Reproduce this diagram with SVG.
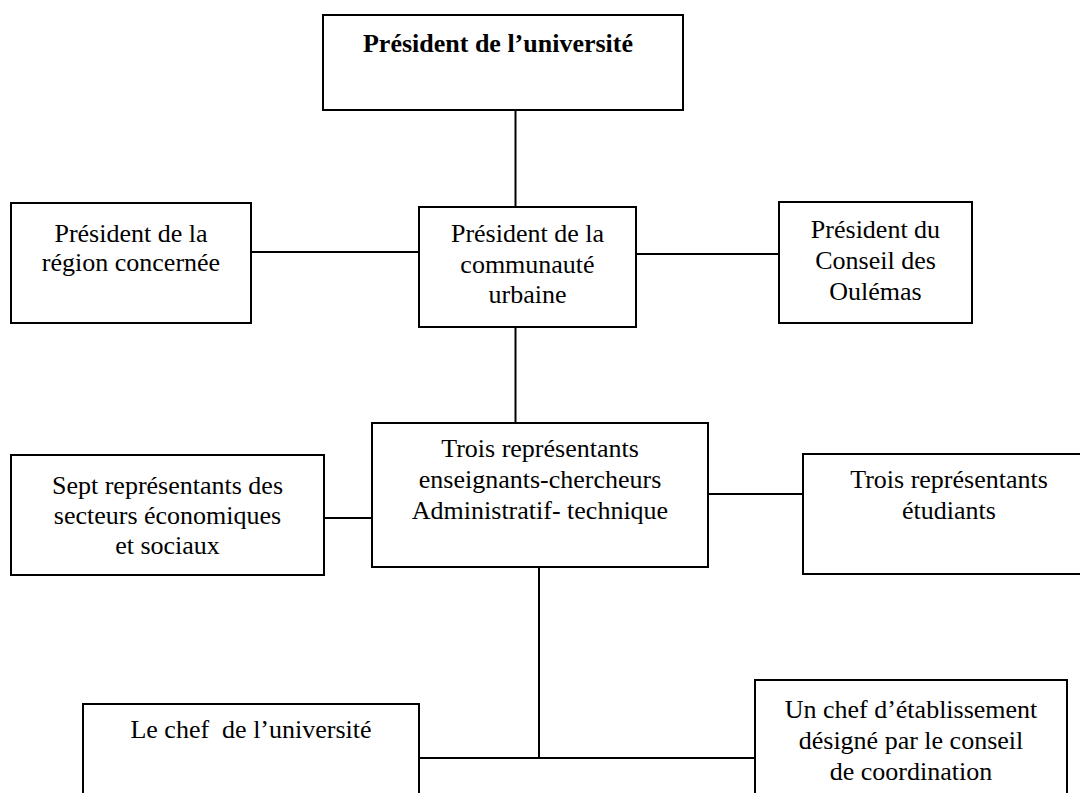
<svg xmlns="http://www.w3.org/2000/svg" width="1080" height="793" viewBox="0 0 1080 793" font-family="Liberation Serif, Times New Roman, DejaVu Serif, serif">
<style>
.box{fill:#fff;stroke:#000;stroke-width:2}
.t{font-family:'Liberation Serif','Times New Roman','DejaVu Serif',serif;font-size:26px;fill:#000;text-anchor:middle}
.b{font-weight:bold}
.c{stroke:#000;stroke-width:2;fill:none}
</style>
<rect width="1080" height="793" fill="#fff"/>
<g id="connectors">
<line class="c" x1="515.5" y1="110" x2="515.5" y2="207"/>
<line class="c" x1="251" y1="252" x2="419" y2="252"/>
<line class="c" x1="636" y1="254" x2="779" y2="254"/>
<line class="c" x1="515.5" y1="327" x2="515.5" y2="423"/>
<line class="c" x1="324" y1="518" x2="372" y2="518"/>
<line class="c" x1="708" y1="494" x2="803" y2="494"/>
<line class="c" x1="539" y1="567" x2="539" y2="758"/>
<line class="c" x1="419" y1="758" x2="755" y2="758"/>
</g>
<g id="president-universite">
<rect class="box" x="323" y="15" width="360" height="95"/>
<text class="t b" x="498" y="52">Président de l’université</text>
</g>
<g id="president-region">
<rect class="box" x="11" y="203" width="240" height="120"/>
<text class="t" x="131" y="242">Président de la</text>
<text class="t" x="131" y="271">région concernée</text>
</g>
<g id="president-communaute">
<rect class="box" x="419" y="207" width="217" height="120"/>
<text class="t" x="527.5" y="242">Président de la</text>
<text class="t" x="527.5" y="273">communauté</text>
<text class="t" x="527.5" y="303">urbaine</text>
</g>
<g id="president-oulemas">
<rect class="box" x="779" y="202" width="193" height="121"/>
<text class="t" x="875.5" y="238">Président du</text>
<text class="t" x="875.5" y="269">Conseil des</text>
<text class="t" x="875.5" y="300">Oulémas</text>
</g>
<g id="sept-representants">
<rect class="box" x="11" y="455" width="313" height="120"/>
<text class="t" x="167.5" y="494">Sept représentants des</text>
<text class="t" x="167.5" y="524">secteurs économiques</text>
<text class="t" x="167.5" y="554">et sociaux</text>
</g>
<g id="trois-enseignants">
<rect class="box" x="372" y="423" width="336" height="144"/>
<text class="t" x="540" y="457">Trois représentants</text>
<text class="t" x="540" y="488">enseignants-chercheurs</text>
<text class="t" x="540" y="519">Administratif- technique</text>
</g>
<g id="trois-etudiants">
<rect class="box" x="803" y="454" width="292" height="120"/>
<text class="t" x="949" y="488">Trois représentants</text>
<text class="t" x="949" y="519">étudiants</text>
</g>
<g id="chef-universite">
<rect class="box" x="83" y="704" width="336" height="110"/>
<text class="t" x="251" y="738" xml:space="preserve">Le chef  de l’université</text>
</g>
<g id="chef-etablissement">
<rect class="box" x="755" y="680" width="312" height="130"/>
<text class="t" x="911" y="718">Un chef d’établissement</text>
<text class="t" x="911" y="749">désigné par le conseil</text>
<text class="t" x="911" y="780">de coordination</text>
</g>
</svg>
